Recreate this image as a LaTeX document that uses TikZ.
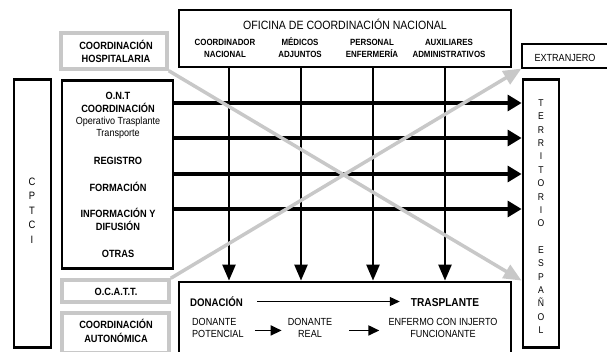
\documentclass[tikz,border=0pt]{standalone}
\usepackage{fontspec}
\setmainfont{Liberation Sans}[FakeStretch=0.88]
\usetikzlibrary{arrows.meta}
\definecolor{lgray}{RGB}{200,200,200}
\tikzset{
  box/.style={draw, line width=2.8pt, inner sep=0pt},
  graybox/.style={draw=lgray, line width=3.5pt, inner sep=0pt},
  thinbox/.style={draw, line width=1.1pt, inner sep=0pt},
  titulo/.style={font=\fontsize{12}{14}\selectfont, inner sep=0pt},
  hd/.style={font=\bfseries\fontsize{10.5}{12.5}\selectfont, align=center, inner sep=0pt},
  sub/.style={font=\bfseries\fontsize{9}{12}\selectfont, align=center, inner sep=0pt},
  txt/.style={font=\fontsize{10.3}{12}\selectfont, align=center, inner sep=0pt},
  letras/.style={font=\fontsize{10.7}{14.5}\selectfont, align=center, inner sep=0pt},
  harrow/.style={line width=3.2pt, -{Triangle[length=14pt,width=16pt]}},
  varrow/.style={line width=2.4pt, -{Triangle[length=16pt,width=13pt]}},
  garrow/.style={color=lgray, line width=3.5pt, -{Triangle[length=18pt,width=15pt]}},
  sarrow/.style={line width=1pt, -{Triangle[length=10pt,width=9pt]}},
  marrow/.style={line width=1.8pt, -{Triangle[length=11pt,width=10pt]}},
}

\begin{document}
\begin{tikzpicture}[x=1pt, y=-1pt]
  \useasboundingbox (0,0) rectangle (607,351);
  \clip (0,0) rectangle (607,351);
  % cajas
  \node[box, minimum width=332pt, minimum height=57pt] (ofi) at (345,38.5) {};
  \node[graybox, minimum width=106pt, minimum height=36pt] (hosp) at (114,51) {};
  \node[box, minimum width=37pt, minimum height=268pt] (cptci) at (32.5,213.5) {};
  \node[box, minimum width=111pt, minimum height=188pt] (ont) at (117.5,174.5) {};
  \node[graybox, minimum width=107pt, minimum height=22pt] (ocatt) at (115.5,291) {};
  \node[graybox, minimum width=107pt, minimum height=40pt] (auton) at (115.5,333) {};
  \node[box, minimum width=332pt, minimum height=80pt] (don) at (345,322) {};
  \node[box, minimum width=36pt, minimum height=268pt] (terr) at (541,213.5) {};
  \node[thinbox, minimum width=90pt, minimum height=24pt] (extr) at (567,56) {};

  % textos (base = ultima linea)
  \node[titulo, anchor=base] (ofit) at (345,29) {OFICINA DE COORDINACIÓN NACIONAL};
  \node[sub, anchor=base] (cnac) at (225,57) {COORDINADOR\\NACIONAL};
  \node[sub, anchor=base] (medi) at (300,57) {MÉDICOS\\ADJUNTOS};
  \node[sub, anchor=base] (pers) at (372,57) {PERSONAL\\ENFERMERÍA};
  \node[sub, anchor=base] (auxi) at (449,57) {AUXILIARES\\ADMINISTRATIVOS};
  \node[hd, anchor=base] (hospt) at (116,62) {COORDINACIÓN\\HOSPITALARIA};
  \node[letras, anchor=base] (cptcit) at (32,243) {C\\P\\T\\C\\I};
  \node[hd, anchor=base] (ont1) at (118,112) {O.N.T\\COORDINACIÓN};
  \node[txt, anchor=base] (ont2) at (118,136) {Operativo Trasplante\\Transporte};
  \node[hd, anchor=base] (regi) at (118,164) {REGISTRO};
  \node[hd, anchor=base] (form) at (118,191) {FORMACIÓN};
  \node[hd, anchor=base, font=\bfseries\fontsize{10.5}{13}\selectfont] (info) at (118,230) {INFORMACIÓN Y\\DIFUSIÓN};
  \node[hd, anchor=base] (otra) at (118,257) {OTRAS};
  \node[hd, anchor=base] (ocattt) at (116,295) {O.C.A.T.T.};
  \node[hd, anchor=base, font=\bfseries\fontsize{10.5}{14}\selectfont] (autont) at (116,342) {COORDINACIÓN\\AUTONÓMICA};
  \node[txt, anchor=base] (extrt) at (565,61) {EXTRANJERO};
  \node[letras, anchor=base, font=\fontsize{9.8}{13.35}\selectfont] (terrt) at (541,333.5)
    {T\\E\\R\\R\\I\\T\\O\\R\\I\\O\\[13.35pt]E\\S\\P\\A\\Ñ\\O\\L};
  \node[hd, anchor=base west, font=\bfseries\fontsize{11}{13}\selectfont] (donac) at (190,306.5) {DONACIÓN};
  \node[hd, anchor=base, font=\bfseries\fontsize{11.5}{13}\selectfont] (trasp) at (445,306.5) {TRASPLANTE};
  \node[txt, anchor=base west, align=left] (dpot) at (192,337) {DONANTE\\POTENCIAL};
  \node[txt, anchor=base] (dreal) at (310,337) {DONANTE\\REAL};
  \node[txt, anchor=base, font=\fontsize{10.3}{12.5}\selectfont] (enfe) at (443,337.5) {ENFERMO CON INJERTO\\FUNCIONANTE};

  % columnas y filas
  \coordinate (c1) at (229,0);
  \coordinate (c2) at (301,0);
  \coordinate (c3) at (373,0);
  \coordinate (c4) at (445,0);
  \coordinate (r1) at (0,103);
  \coordinate (r2) at (0,138);
  \coordinate (r3) at (0,174);
  \coordinate (r4) at (0,209);

  \draw[varrow] (ofi.south -| c1) -- (don.north -| c1);
  \draw[varrow] (ofi.south -| c2) -- (don.north -| c2);
  \draw[varrow] (ofi.south -| c3) -- (don.north -| c3);
  \draw[varrow] (ofi.south -| c4) -- (don.north -| c4);
  \draw[harrow] (ont.east |- r1) -- (terr.west |- r1);
  \draw[harrow] (ont.east |- r2) -- (terr.west |- r2);
  \draw[harrow] (ont.east |- r3) -- (terr.west |- r3);
  \draw[harrow] (ont.east |- r4) -- (terr.west |- r4);

  % lineas grises
  \draw[garrow] (hosp.south east) -- (terr.west |- don.north);
  \draw[garrow] (ocatt.north east) -- (extr.south west);

  % flujo donacion
  \draw[sarrow] ([xshift=14pt, yshift=5pt]donac.base east) -- ([xshift=-11pt, yshift=5pt]trasp.base west);
  \draw[marrow] ([xshift=11pt, yshift=-3pt]dpot.east) -- ([xshift=-6pt, yshift=-3pt]dreal.west |- dpot.east);
  \draw[marrow] ([xshift=17pt, yshift=-3pt]dreal.east |- dpot.east) -- ([xshift=-9pt, yshift=-3pt]enfe.west |- dpot.east);
\end{tikzpicture}
\end{document}
